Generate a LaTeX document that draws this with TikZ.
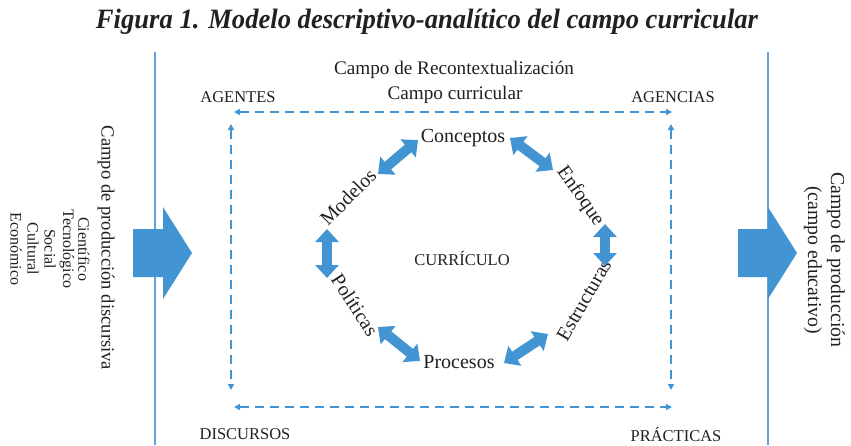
\documentclass[tikz,border=0pt]{standalone}
\usepackage{fontspec}
\setmainfont{Liberation Serif}
\usetikzlibrary{arrows.meta}
\definecolor{blu}{RGB}{66,148,210}
\definecolor{lblu}{RGB}{96,162,220}
\definecolor{txt}{RGB}{35,31,32}
\begin{document}
\begin{tikzpicture}[x=1pt,y=-1pt,
  lbl/.style={text=txt,font=\fontsize{20}{22}\selectfont,inner sep=0pt},
  caps/.style={text=txt,font=\fontsize{16.5}{18}\selectfont,inner sep=0pt},
  side/.style={text=txt,font=\fontsize{16}{18}\selectfont,inner sep=0pt,rotate=-90},
  dsh/.style={blu,line width=1.8pt,dash pattern=on 9pt off 6pt,{Triangle[width=6pt,length=6pt]}-{Triangle[width=6pt,length=6pt]}},
  dbl/.style={blu,line width=10pt,{Triangle[width=23pt,length=13pt]}-{Triangle[width=23pt,length=13pt]}},
  big/.style={fill=blu,draw=none},
  vline/.style={lblu,line width=2.5pt}]
\useasboundingbox (0,0) rectangle (851,445);
% title
\node[text=txt,font=\fontsize{28}{30}\selectfont\bfseries\itshape,inner sep=0pt] (title) at (427,22) {\scalebox{0.95}[1]{Figura 1. Modelo descriptivo-analítico del campo curricular}};
% vertical lines
\coordinate (l1) at (155,52); \coordinate (l2) at (155,445);
\coordinate (r1) at (768,52); \coordinate (r2) at (768,445);
\draw[vline] (l1) -- (l2);
\draw[vline] (r1) -- (r2);
% big arrows
\fill[big] (133,229) -- (163,229) -- (163,207) -- (192,253) -- (163,299) -- (163,277) -- (133,277) -- cycle;
\fill[big] (738,229) -- (768,229) -- (768,207) -- (797,253) -- (768,299) -- (768,277) -- (738,277) -- cycle;
% left texts
\node[side,font=\fontsize{18.6}{20}\selectfont] (cpd) at (106,248) {Campo de producción discursiva};
\node[side] (cie) at (84,249) {Científico};
\node[side] (tec) at (67,249) {Tecnológico};
\node[side] (soc) at (50,249) {Social};
\node[side] (cul) at (33,249) {Cultural};
\node[side] (eco) at (16,249) {Económico};
% right texts
\node[side,font=\fontsize{19.8}{22}\selectfont] (cp) at (836,260) {Campo de producción};
\node[side,font=\fontsize{19.8}{22}\selectfont] (ce) at (813,260) {(campo educativo)};
% top labels
\node[lbl,font=\fontsize{19.2}{21}\selectfont] (rec) at (454,70) {Campo de Recontextualización};
\node[lbl,font=\fontsize{19.2}{21}\selectfont] (cc) at (455,95) {Campo curricular};
\node[caps] (ag) at (238,97) {AGENTES};
\node[caps] (agc) at (673,97) {AGENCIAS};
\node[caps] (dis) at (245,434) {DISCURSOS};
\node[caps] (pra) at (676,434) {PRÁCTICAS};
% dashed frame
\coordinate (tl) at (234,112); \coordinate (tr) at (672,112);
\coordinate (bl) at (234,407); \coordinate (br) at (672,407);
\coordinate (vl1) at (231,124); \coordinate (vl2) at (231,390);
\coordinate (vr1) at (671,124); \coordinate (vr2) at (671,390);
\draw[dsh] (tl) -- (tr);
\draw[dsh] (bl) -- (br);
\draw[dsh] (vl1) -- (vl2);
\draw[dsh] (vr1) -- (vr2);
% ring
\node[caps] (cur) at (462,258) {CURRÍCULO};
\node[lbl] (con) at (463,138) {Conceptos};
\node[lbl,rotate=-55] (enf) at (580,196) {Enfoque};
\node[lbl,rotate=60] (est) at (584,300) {Estructuras};
\node[lbl] (pro) at (459,362) {Procesos};
\node[lbl,rotate=-57] (pol) at (355,305) {Políticas};
\node[lbl,rotate=45] (mod) at (348,197) {Modelos};
\coordinate (a1) at (418,140); \coordinate (a2) at (378,174);
\coordinate (b1) at (510,138); \coordinate (b2) at (553,170);
\coordinate (c1) at (605,224); \coordinate (c2) at (605,266);
\coordinate (d1) at (548,334); \coordinate (d2) at (504,363);
\coordinate (e1) at (420,361); \coordinate (e2) at (378,327);
\coordinate (f1) at (327,229); \coordinate (f2) at (327,278);
\draw[dbl] (a1) -- (a2);
\draw[dbl] (b1) -- (b2);
\draw[dbl] (c1) -- (c2);
\draw[dbl] (d1) -- (d2);
\draw[dbl] (e1) -- (e2);
\draw[dbl] (f1) -- (f2);
\end{tikzpicture}
\end{document}
